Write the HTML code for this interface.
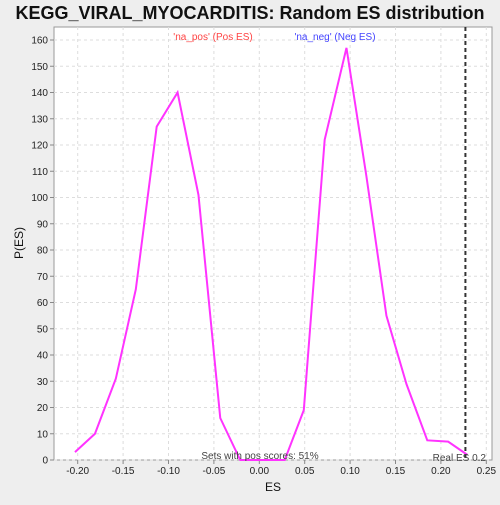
<!DOCTYPE html>
<html><head><meta charset="utf-8"><style>
body{margin:0;background:#eeeeee;font-family:"Liberation Sans","DejaVu Sans",sans-serif}
</style></head><body>
<svg id="c" width="500" height="500" xmlns="http://www.w3.org/2000/svg">
<rect x="0" y="0" width="500" height="500" fill="#eeeeee"/>
<text x="250" y="19" text-anchor="middle" font-size="18" font-weight="bold" fill="#111">KEGG_VIRAL_MYOCARDITIS: Random ES distribution</text>
<rect x="54" y="27" width="438" height="433" fill="#fff" stroke="#999"/>
<g id="grid"></g><g id="axes"></g><g id="series"></g>
<text x="213" y="40" text-anchor="middle" font-size="10" fill="#ff4444">'na_pos' (Pos ES)</text>
<text x="335" y="40" text-anchor="middle" font-size="10" fill="#4444ff">'na_neg' (Neg ES)</text>
<text x="260" y="459" text-anchor="middle" font-size="10" fill="#444">Sets with pos scores: 51%</text>
<text x="486" y="461" text-anchor="end" font-size="10" fill="#444">Real ES 0.2</text>
<text x="273" y="491" text-anchor="middle" font-size="12" fill="#111">ES</text>
<text x="23" y="243" text-anchor="middle" font-size="12" fill="#111" transform="rotate(-90 23 243)">P(ES)</text>
</svg>
<script>
const xs=[-0.203,-0.181,-0.158,-0.136,-0.113,-0.090,-0.067,-0.043,-0.021,0.028,0.049,0.072,0.096,0.118,0.140,0.162,0.185,0.208,0.229];
const ys=[3,10,31,65,127,140,101,16,0,0,19,122,157,108,55,29,7.5,7,2];
const xTicks=[-0.2,-0.15,-0.1,-0.05,0,0.05,0.1,0.15,0.2,0.25];
const yTicks=[0,10,20,30,40,50,60,70,80,90,100,110,120,130,140,150,160];
const realES=0.227;
const NS='http://www.w3.org/2000/svg';
const X=v=>259.3+v*908, Y=v=>460-v*2.625;
function mk(t,a,p){const e=document.createElementNS(NS,t);for(const k in a)e.setAttribute(k,a[k]);document.getElementById(p).appendChild(e);return e;}
xTicks.forEach(v=>{
 const g=mk('line',{x1:X(v),x2:X(v),y1:27,y2:460,stroke:'#ddd','stroke-dasharray':'3,3'},'grid');
 
 
 const t=mk('line',{x1:X(v),x2:X(v),y1:460,y2:464,stroke:'#888'},'axes');
 
 
 const l=mk('text',{x:X(v),y:474,'text-anchor':'middle','font-size':10,fill:'#222'},'axes');
 l.textContent=v.toFixed(2);
 
 
});
yTicks.forEach(v=>{
 const g=mk('line',{x1:54,x2:492,y1:Y(v),y2:Y(v),stroke:'#ddd','stroke-dasharray':'3,3'},'grid');
 
 
 const t=mk('line',{x1:50,x2:54,y1:Y(v),y2:Y(v),stroke:'#888'},'axes');
 
 
 const l=mk('text',{x:48,y:Y(v)+3.5,'text-anchor':'end','font-size':10,fill:'#222'},'axes');
 l.textContent=v;
 
 
});
const p=mk('polyline',{points:xs.map((x,i)=>X(x)+','+Y(ys[i])).join(' '),fill:'none',stroke:'#ff33ff','stroke-width':2},'series');


const r=mk('line',{x1:X(realES),x2:X(realES),y1:27,y2:460,stroke:'#333','stroke-width':2,'stroke-dasharray':'4,3'},'series');


</script>
</body></html>
